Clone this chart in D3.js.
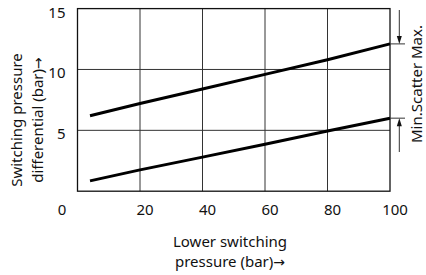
<!DOCTYPE html>
<html><head><meta charset="utf-8">
<script src="https://cdn.jsdelivr.net/npm/d3@7"></script>
<style>body{margin:0;background:#fff}svg text{font-family:"Noto Sans",sans-serif;fill:#111}</style>
</head><body>
<svg id="c" width="426" height="275"></svg>
<script>
const xVals = [4, 20, 40, 60, 80, 100];
const maxSeries = [6.2, 7.2, 8.4, 9.6, 10.8, 12.1];
const minSeries = [0.85, 1.75, 2.8, 3.85, 4.95, 6.0];
const xTicks = [20, 40, 60, 80, 100];
const yTicks = [5, 10, 15];
const xLabel = ["Lower switching", "pressure (bar)"];
const yLabel = ["Switching pressure", "differential (bar)"];
const arrow = "\u2192";
const sideLabel = "Min.Scatter Max.";

const svg = d3.select("#c");
const x = d3.scaleLinear().domain([0, 100]).range([77.5, 390]);
const y = d3.scaleLinear().domain([0, 15]).range([191.2, 8.6]);
const fs = 15;

const g = svg.append("g");
// grid
g.selectAll("line.vx").data(xTicks.slice(0, -1)).join("line")
  .attr("x1", d => x(d)).attr("x2", d => x(d)).attr("y1", y(15)).attr("y2", y(0))
  .attr("stroke", "#333").attr("stroke-width", 1);
g.selectAll("line.hy").data(yTicks.slice(0, -1)).join("line")
  .attr("x1", x(0)).attr("x2", x(100)).attr("y1", d => y(d)).attr("y2", d => y(d))
  .attr("stroke", "#333").attr("stroke-width", 1);
// box
g.append("rect").attr("x", x(0)).attr("y", y(15)).attr("width", x(100) - x(0)).attr("height", y(0) - y(15))
  .attr("fill", "none").attr("stroke", "#111").attr("stroke-width", 1.3);

// axes labels
const xAxis = d3.axisBottom(x).tickValues(xTicks).tickSize(0).tickPadding(0);
const xa = svg.append("g").attr("transform", `translate(4.5,${y(0)})`).call(xAxis);
xa.select(".domain").remove();
xa.selectAll("text").attr("font-size", fs).attr("dy", null).attr("y", 23.5).attr("fill", "#111");
svg.append("text").attr("x", x(0) - 15.5).attr("y", y(0) + 23.5).attr("text-anchor", "middle")
  .attr("font-size", fs).text("0");

const yAxis = d3.axisLeft(y).tickValues(yTicks).tickSize(0).tickPadding(0);
const ya = svg.append("g").attr("transform", `translate(${x(0) - 12},3.6)`).call(yAxis);
ya.select(".domain").remove();
ya.selectAll("text").attr("font-size", fs).attr("fill", "#111");

// data lines
const line = d3.line().x((d, i) => x(xVals[i])).y(d => y(d));
[maxSeries, minSeries].forEach(s => {
  svg.append("path").attr("d", line(s)).attr("fill", "none").attr("stroke", "#000")
    .attr("stroke-width", 3);
});

// right side annotations
const ax = 399.3;
const yMax = y(maxSeries[maxSeries.length - 1]);
const yMin = y(minSeries[minSeries.length - 1]);
svg.append("line").attr("x1", x(100)).attr("x2", 405).attr("y1", yMax).attr("y2", yMax).attr("stroke", "#333");
svg.append("line").attr("x1", x(100)).attr("x2", 405).attr("y1", yMin).attr("y2", yMin).attr("stroke", "#333");
svg.append("line").attr("x1", ax).attr("x2", ax).attr("y1", 10).attr("y2", yMax - 6).attr("stroke", "#333");
svg.append("path").attr("d", `M${ax - 2.5},${yMax - 8}L${ax + 2.5},${yMax - 8}L${ax},${yMax}Z`).attr("fill", "#111");
svg.append("line").attr("x1", ax).attr("x2", ax).attr("y1", yMin + 6).attr("y2", 152).attr("stroke", "#333");
svg.append("path").attr("d", `M${ax - 2.5},${yMin + 8}L${ax + 2.5},${yMin + 8}L${ax},${yMin}Z`).attr("fill", "#111");
svg.append("text").attr("transform", "translate(422,84) rotate(-90)").attr("text-anchor", "middle")
  .attr("font-size", fs).text(sideLabel);

// axis titles
function addArrow(sel) {
  sel.append("tspan").attr("font-family", "DejaVu Sans").attr("font-size", fs - 1).text(arrow);
}
xLabel.forEach((t, i) => {
  const tx = svg.append("text").attr("x", 230).attr("y", 246.5 + i * 20)
    .attr("text-anchor", "middle").attr("font-size", fs).text(t);
  if (i === 1) addArrow(tx);
});
yLabel.forEach((t, i) => {
  const tx = svg.append("text").attr("transform", `translate(${22 + i * 21},120) rotate(-90)`)
    .attr("text-anchor", "middle").attr("font-size", fs).text(t);
  if (i === 1) addArrow(tx);
});
</script>
</body></html>
